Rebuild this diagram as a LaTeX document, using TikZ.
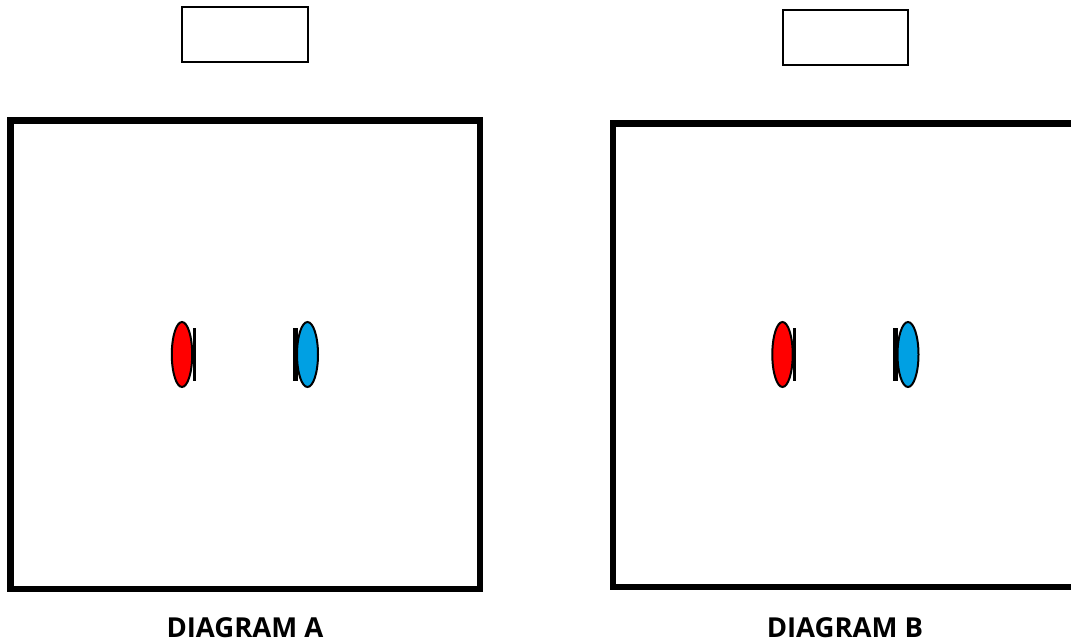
\documentclass[tikz,border=0pt]{standalone}
\usepackage{fontspec}
\setmainfont{Open Sans}
\definecolor{skyblue}{RGB}{0,160,227}
\begin{document}
\begin{tikzpicture}[x=1pt,y=-1pt,
  bigbox/.style={draw=black,line width=6.5pt},
  smallbox/.style={draw=black,line width=2pt},
  redlens/.style={draw=black,line width=2pt,fill=red},
  bluelens/.style={draw=black,line width=2pt,fill=skyblue},
  lbl/.style={font=\bfseries\fontsize{27.5}{32}\selectfont,inner sep=0pt}]
\useasboundingbox (0,0) rectangle (1071,643);
% Diagram A
\draw[bigbox] (10.3,120.5) rectangle (480,589);
\draw[smallbox] (181.5,7) rectangle (308,62);
\fill[black] (193.3,328) rectangle (195.7,381);
\fill[black] (292.5,328) rectangle (298,381);
\draw[redlens] (182,354.5) ellipse [x radius=10.2, y radius=32.5];
\draw[bluelens] (307.5,354.5) ellipse [x radius=10.5, y radius=32.5];
\node[lbl,anchor=base] (la) at (245,637.5) {DIAGRAM A};
% Diagram B
\draw[bigbox] (1090,123.5) -- (613,123.5) -- (613,587) -- (1090,587);
\draw[smallbox] (783,10) rectangle (908,64.5);
\fill[black] (793.3,328) rectangle (795.7,381);
\fill[black] (892.5,328) rectangle (898,381);
\draw[redlens] (782.5,354.5) ellipse [x radius=10.2, y radius=32.5];
\draw[bluelens] (908,354.5) ellipse [x radius=10.5, y radius=32.5];
\node[lbl,anchor=base] (lb) at (845,637.5) {DIAGRAM B};
\end{tikzpicture}
\end{document}
